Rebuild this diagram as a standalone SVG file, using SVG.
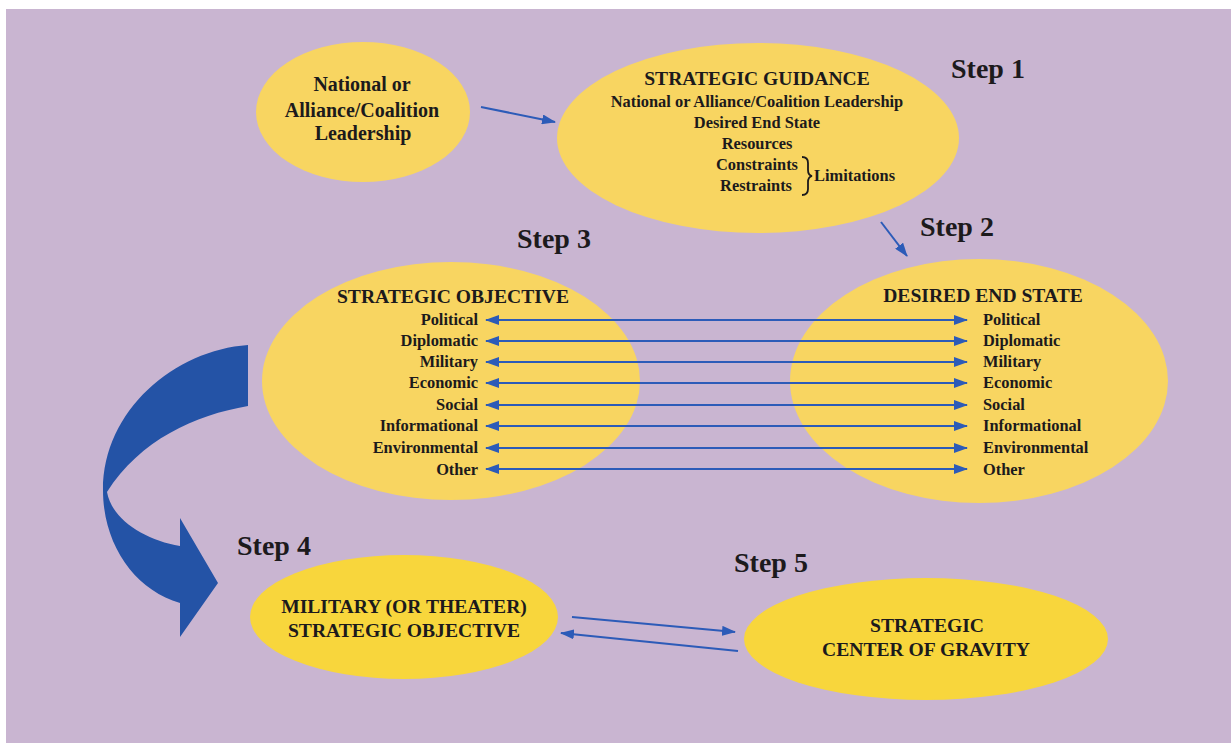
<svg xmlns="http://www.w3.org/2000/svg" width="1231" height="743" viewBox="0 0 1231 743">
<defs>
<style>
.t{font-family:"Liberation Serif","Times New Roman",serif;font-weight:bold;fill:#1c1a1c}
.c{text-anchor:middle}
.r{text-anchor:end}
.h{font-size:19.6px}
.s{font-size:16.4px}
.step{font-size:28px}
.ld{font-size:20px}
.ell{fill:#f8d561}
.ell2{fill:#f8d63c}
.ln{stroke:#2c5bb8;stroke-width:2;fill:none}
</style>
<marker id="ah" viewBox="0 0 14 10" refX="13" refY="5" markerWidth="14" markerHeight="10" markerUnits="userSpaceOnUse" orient="auto-start-reverse">
<path d="M0,0 L14,5 L0,10 Z" fill="#2c5bb8"/>
</marker>
</defs>
<rect x="0" y="0" width="1231" height="743" fill="#ffffff"/>
<rect x="6" y="9" width="1225" height="734" fill="#c9b5d1"/>

<g id="leadership">
<ellipse class="ell" cx="363" cy="112" rx="107" ry="70"/>
<text class="t c ld" x="362" y="91">National or</text>
<text class="t c ld" x="362" y="117">Alliance/Coalition</text>
<text class="t c ld" x="363" y="140">Leadership</text>
</g>

<g id="guidance">
<ellipse class="ell" cx="758" cy="138" rx="201" ry="95"/>
<text class="t c h" x="757" y="85">STRATEGIC GUIDANCE</text>
<text class="t c s" x="757" y="107">National or Alliance/Coalition Leadership</text>
<text class="t c s" x="757" y="128">Desired End State</text>
<text class="t c s" x="757" y="149">Resources</text>
<text class="t r s" x="798" y="170">Constraints</text>
<text class="t r s" x="792" y="191">Restraints</text>
<path d="M802,157 Q808,157 808,163 L808,170 Q808,175 812,176 Q808,177 808,182 L808,189 Q808,195 802,195" fill="none" stroke="#1c1a1c" stroke-width="1.8"/>
<text class="t s" x="814" y="181">Limitations</text>
</g>

<g id="objective">
<ellipse class="ell" cx="451" cy="381" rx="189" ry="119"/>
<text class="t c h" x="453" y="303">STRATEGIC OBJECTIVE</text>
<text class="t r s" x="478" y="325">Political</text>
<text class="t r s" x="478" y="346">Diplomatic</text>
<text class="t r s" x="478" y="367">Military</text>
<text class="t r s" x="478" y="388">Economic</text>
<text class="t r s" x="478" y="410">Social</text>
<text class="t r s" x="478" y="431">Informational</text>
<text class="t r s" x="478" y="453">Environmental</text>
<text class="t r s" x="478" y="475">Other</text>
</g>

<g id="endstate">
<ellipse class="ell" cx="979" cy="381" rx="189" ry="122"/>
<text class="t c h" x="983" y="302">DESIRED END STATE</text>
<text class="t s" x="983" y="325">Political</text>
<text class="t s" x="983" y="346">Diplomatic</text>
<text class="t s" x="983" y="367">Military</text>
<text class="t s" x="983" y="388">Economic</text>
<text class="t s" x="983" y="410">Social</text>
<text class="t s" x="983" y="431">Informational</text>
<text class="t s" x="983" y="453">Environmental</text>
<text class="t s" x="983" y="475">Other</text>
</g>

<g id="military">
<ellipse class="ell2" cx="404" cy="617" rx="154" ry="62"/>
<text class="t c h" x="404" y="613">MILITARY (OR THEATER)</text>
<text class="t c h" x="404" y="637">STRATEGIC OBJECTIVE</text>
</g>

<g id="cog">
<ellipse class="ell2" cx="926" cy="639" rx="182" ry="61"/>
<text class="t c h" x="927" y="632">STRATEGIC</text>
<text class="t c h" x="926" y="656">CENTER OF GRAVITY</text>
</g>

<g id="steps">
<text class="t step" x="951" y="78">Step 1</text>
<text class="t step" x="920" y="236">Step 2</text>
<text class="t step" x="517" y="248">Step 3</text>
<text class="t step" x="237" y="555">Step 4</text>
<text class="t step" x="734" y="572">Step 5</text>
</g>

<g id="connectors">
<line class="ln" x1="481" y1="107" x2="555" y2="122" marker-end="url(#ah)"/>
<line class="ln" x1="881" y1="222" x2="907" y2="256" marker-end="url(#ah)"/>
<line class="ln" x1="486" y1="320" x2="967" y2="320" marker-start="url(#ah)" marker-end="url(#ah)"/>
<line class="ln" x1="486" y1="341" x2="967" y2="341" marker-start="url(#ah)" marker-end="url(#ah)"/>
<line class="ln" x1="486" y1="362" x2="967" y2="362" marker-start="url(#ah)" marker-end="url(#ah)"/>
<line class="ln" x1="486" y1="383" x2="967" y2="383" marker-start="url(#ah)" marker-end="url(#ah)"/>
<line class="ln" x1="486" y1="405" x2="967" y2="405" marker-start="url(#ah)" marker-end="url(#ah)"/>
<line class="ln" x1="486" y1="426" x2="967" y2="426" marker-start="url(#ah)" marker-end="url(#ah)"/>
<line class="ln" x1="486" y1="448" x2="967" y2="448" marker-start="url(#ah)" marker-end="url(#ah)"/>
<line class="ln" x1="486" y1="469" x2="967" y2="469" marker-start="url(#ah)" marker-end="url(#ah)"/>
<line class="ln" x1="572" y1="617" x2="735" y2="632" marker-end="url(#ah)"/>
<line class="ln" x1="738" y1="651" x2="561" y2="633" marker-end="url(#ah)"/>
<path d="M248,345 L248,406 C195,415 140,440 107,492 C112,520 145,540 180,546 L180,518 L218,583 L180,637 L180,603 C135,590 103,545 103,490 C103,410 175,350 248,345 Z" fill="#2453a6"/>
</g>
</svg>
